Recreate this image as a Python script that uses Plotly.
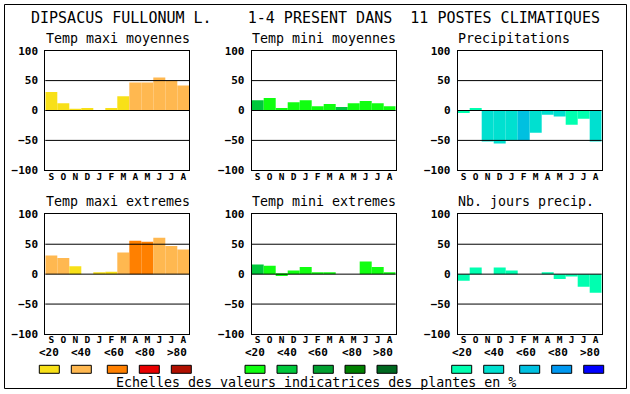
import plotly.graph_objects as go

W, H = 630, 394

MONTHS = ["S", "O", "N", "D", "J", "F", "M", "A", "M", "J", "J", "A"]
MONTH_IDX = list(range(len(MONTHS)))
Y_TICKS = [-100, -50, 0, 50, 100]
GRID_VALUES = [-50, 0, 50]
CLASS_LABELS = ["&lt;20", "&lt;40", "&lt;60", "&lt;80", "&gt;80"]

TEMP_COLORS = ["#F8E018", "#FFB850", "#FF8000", "#E80000", "#B01000"]
GREEN_COLORS = ["#10FF10", "#00C83C", "#00A030", "#008000", "#006820"]
BLUE_COLORS = ["#00FFB0", "#00E0D0", "#00C0E0", "#0098F0", "#0000FF"]

TMAX_MOY = [31, 12, 2, 4, 0, 4, 24, 47, 47, 55, 50, 42]
TMAX_MOY_CLS = [0, 0, 0, 0, 0, 0, 0, 1, 1, 1, 1, 1]
TMIN_MOY = [17, 21, 4, 14, 17, 7, 11, 6, 12, 16, 12, 7]
TMIN_MOY_CLS = [1, 0, 0, 0, 0, 0, 0, 1, 0, 0, 0, 0]
PRECIP = [-4, 4, -52, -55, -50, -50, -37, -7, -10, -24, -14, -52]
PRECIP_CLS = [0, 0, 1, 1, 1, 2, 1, 1, 1, 0, 0, 1]
TMAX_EXT = [31, 27, 13, 0, 2, 4, 36, 56, 54, 61, 47, 41]
TMAX_EXT_CLS = [1, 1, 0, 0, 0, 0, 1, 2, 2, 1, 1, 1]
TMIN_EXT = [16, 14, -3, 6, 12, 2, 2, 0, 0, 21, 12, 3]
TMIN_EXT_CLS = [1, 0, 0, 0, 0, 0, 0, 0, 0, 0, 0, 0]
NJOURS = [-11, 11, 0, 11, 6, 0, 0, 3, -8, -4, -21, -31]
NJOURS_CLS = [0, 0, 0, 0, 0, 0, 0, 0, 0, 0, 0, 0]

PANEL_TITLES = ["Temp maxi moyennes", "Temp mini moyennes", "Precipitations",
                "Temp maxi extremes", "Temp mini extremes", "Nb. jours precip."]
MAIN_TITLE = "DIPSACUS FULLONUM L.    1-4 PRESENT DANS  11 POSTES CLIMATIQUES"
FOOT_TEXT = "Echelles des valeurs indicatrices des plantes en %"

panels = [
    (TMAX_MOY, TMAX_MOY_CLS, TEMP_COLORS),
    (TMIN_MOY, TMIN_MOY_CLS, GREEN_COLORS),
    (PRECIP, PRECIP_CLS, BLUE_COLORS),
    (TMAX_EXT, TMAX_EXT_CLS, TEMP_COLORS),
    (TMIN_EXT, TMIN_EXT_CLS, GREEN_COLORS),
    (NJOURS, NJOURS_CLS, BLUE_COLORS),
]

COL_X = [(45.3, 189.3), (251.7, 395.7), (457.7, 601.7)]
ROW_Y = [(50.7, 170.3), (214.3, 334.0)]

MONO = "DejaVu Sans Mono"

fig = go.Figure()
layout = dict(
    width=W, height=H, margin=dict(l=0, r=0, t=0, b=0, pad=0, autoexpand=False),
    paper_bgcolor="white", plot_bgcolor="white",
    showlegend=False, shapes=[], annotations=[],
)

def px(x):
    return x / W

def py(y):
    return 1 - y / H

for i, (vals, cls, pal) in enumerate(panels):
    n = i + 1
    r, c = divmod(i, 3)
    xs = "" if n == 1 else str(n)
    fig.add_trace(go.Bar(
        x=MONTH_IDX, y=vals, width=1,
        marker=dict(color=[pal[k] for k in cls], line=dict(width=0)),
        xaxis="x" + xs, yaxis="y" + xs, hoverinfo="skip",
    ))
    x0, x1 = COL_X[c]
    y0, y1 = ROW_Y[r]
    layout["xaxis" + xs] = dict(
        domain=[px(x0), px(x1)], anchor="y" + xs, range=[-0.5, 11.5],
        tickmode="array", tickvals=MONTH_IDX, ticktext=MONTHS,
        showgrid=False, zeroline=False, ticks="", automargin=False,
        showline=True, mirror=True, linecolor="black", linewidth=1,
        layer="above traces", fixedrange=True, ticklabelstandoff=-3,
        tickfont=dict(family=MONO, size=9.5, color="black", weight="bold"),
    )
    layout["yaxis" + xs] = dict(
        domain=[py(y1), py(y0)], anchor="x" + xs, range=[-100, 100],
        tickmode="array", tickvals=Y_TICKS, automargin=False,
        showgrid=False, zeroline=False, ticks="",
        showline=True, mirror=True, linecolor="black", linewidth=1,
        layer="above traces", fixedrange=True, ticklabelstandoff=4,
        tickfont=dict(family=MONO, size=11, color="black", weight="bold"),
    )
    for v in GRID_VALUES:
        layout["shapes"].append(dict(
            type="line", xref="x" + xs + " domain", x0=0, x1=1,
            yref="y" + xs, y0=v, y1=v,
            line=dict(color="black", width=1), layer="above",
        ))
    ty = 38.3 if r == 0 else 201.5
    layout["annotations"].append(dict(
        text=PANEL_TITLES[i], xref="paper", yref="paper",
        x=px(x0 - 1.5), y=py(ty), xanchor="left", yanchor="middle",
        showarrow=False, font=dict(family=MONO, size=13.3, color="black"),
    ))

# main title
layout["annotations"].append(dict(
    text=MAIN_TITLE.replace(" ", "\u00a0"), xref="paper", yref="paper",
    x=px(29), y=py(18.3), xanchor="left", yanchor="middle", showarrow=False,
    font=dict(family=MONO, size=15, color="black"),
))
# footer
layout["annotations"].append(dict(
    text=FOOT_TEXT, xref="paper", yref="paper",
    x=px(113.5), y=py(382.5), xanchor="left", yanchor="middle", showarrow=False,
    font=dict(family=MONO, size=13.3, color="black"),
))

# legends
LEG_BOX_X = [
    [39.3, 71.3, 107.3, 139.3, 171.3],
    [245.0, 277.0, 313.3, 345.0, 377.0],
    [451.7, 483.7, 519.7, 551.7, 583.7],
]
LEG_LABEL_X = [
    [49.0, 81.0, 113.5, 145.0, 177.0],
    [255.0, 287.0, 318.0, 351.7, 383.3],
    [461.7, 493.7, 525.7, 557.7, 589.7],
]
for g, pal in enumerate([TEMP_COLORS, GREEN_COLORS, BLUE_COLORS]):
    for k, col in enumerate(pal):
        bx = LEG_BOX_X[g][k]
        layout["shapes"].append(dict(
            type="rect", xref="paper", yref="paper",
            x0=px(bx), x1=px(bx + 20), y0=py(373.3), y1=py(365.3),
            fillcolor=col, line=dict(color="black", width=1), layer="above",
        ))
        layout["annotations"].append(dict(
            text=CLASS_LABELS[k], xref="paper", yref="paper",
            x=px(LEG_LABEL_X[g][k]), y=py(352.3), xanchor="center", yanchor="middle",
            showarrow=False,
            font=dict(family=MONO, size=11, color="black", weight="bold"),
        ))

# outer frame
layout["shapes"].append(dict(
    type="rect", xref="paper", yref="paper",
    x0=px(4.5), x1=px(626.5), y0=py(388.5), y1=py(4.5),
    line=dict(color="black", width=1), fillcolor="rgba(0,0,0,0)", layer="above",
))

fig.update_layout(**layout)

PAGE_FIX = (
    "var s=document.createElement('style');"
    "s.textContent='html,body{margin:0;padding:0;overflow:hidden;width:630px;height:394px;}';"
    "document.head.appendChild(s);"
    "var gd=document.getElementById('{plot_id}');"
    "gd.style.position='fixed';gd.style.left='0px';gd.style.top='0px';"
)
fig.write_html("out.html", config={"displayModeBar": False}, post_script=PAGE_FIX)
